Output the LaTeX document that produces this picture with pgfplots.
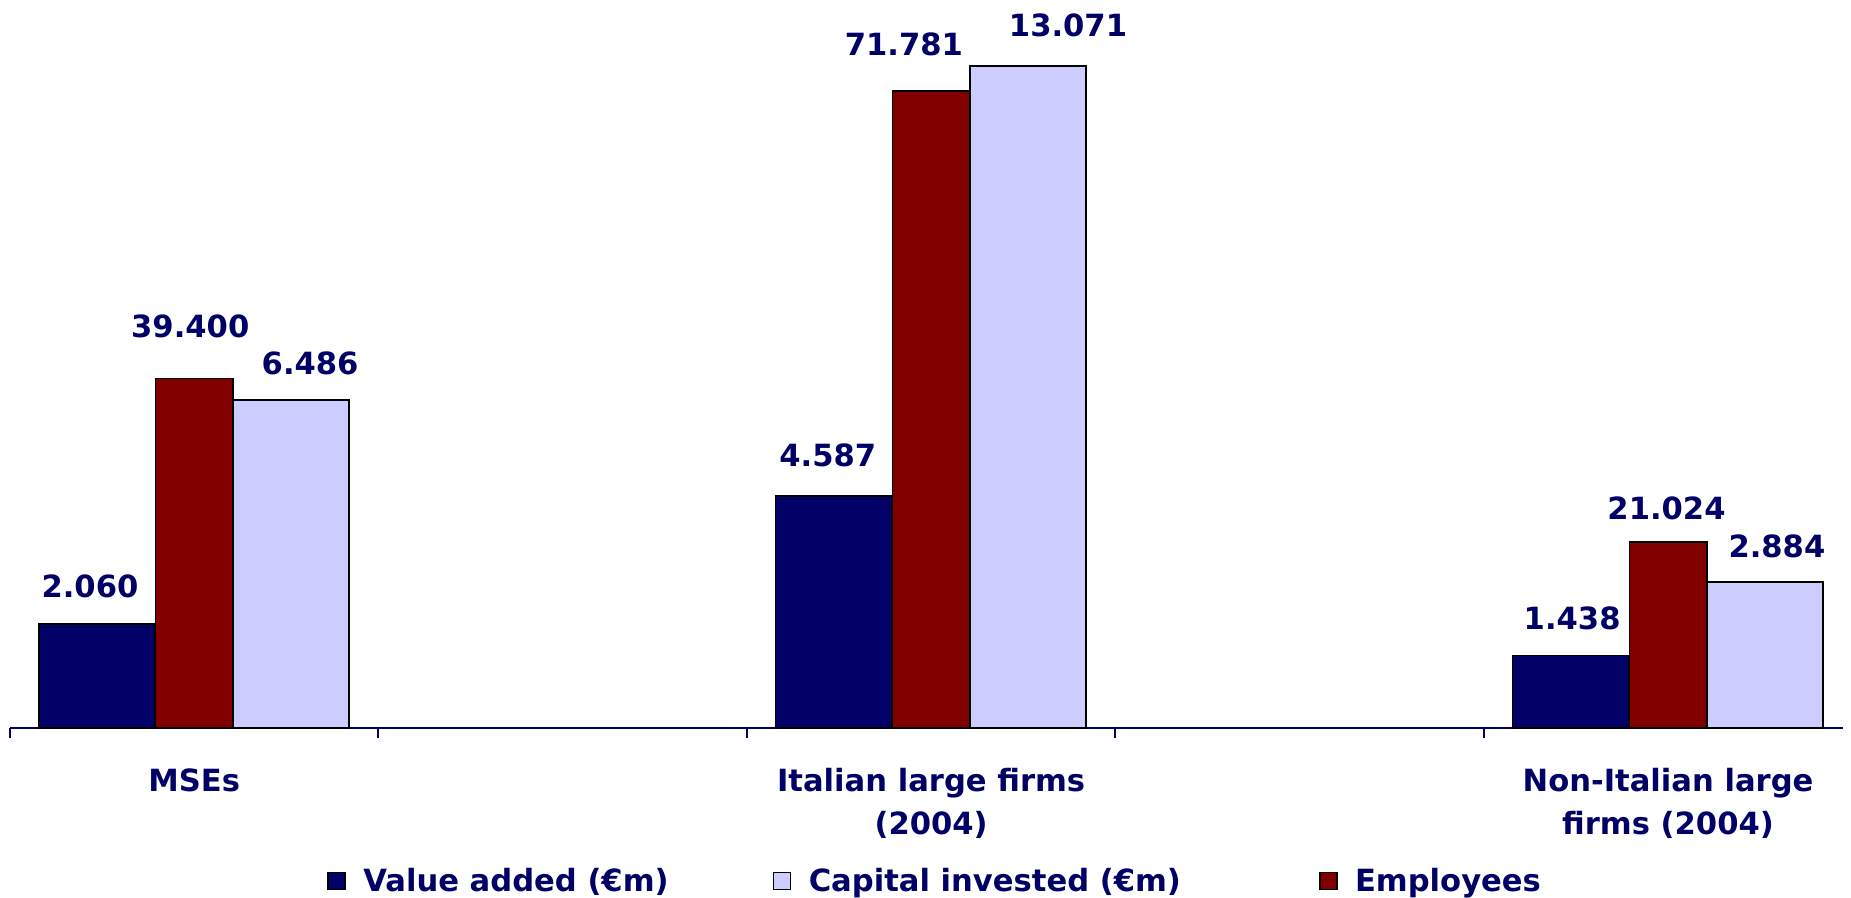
\documentclass[border=0pt]{standalone}
\usepackage{pgfplots}
\pgfplotsset{compat=1.18}
\usepackage{pgfplotstable}
\usepackage{fontspec}
\setmainfont{DejaVu Sans}
\definecolor{va}{HTML}{000066}
\definecolor{emp}{HTML}{800000}
\definecolor{capc}{HTML}{CCCCFF}
\definecolor{txt}{HTML}{000066}
\newcommand{\lf}{\fontsize{15.3}{21.5}\selectfont\bfseries}

\pgfplotstableread{
x y lab dx dy
0 2.060 2.060 -3.5 13.35
2 4.587 4.587 -3.0 14.5
4 1.438 1.438 0.7 13.2
}\tabVA
\pgfplotstableread{
x y lab dx dy
0 6.486 6.486 9.5 12.65
2 13.071 13.071 20.0 15.0
4 2.884 2.884 6.0 12.15
}\tabCap
\pgfplotstableread{
x y lab dx dy
0 39.400 39.400 -2.0 20.5
2 71.781 71.781 -13.6 17.85
4 21.024 21.024 -0.75 11.0
}\tabEmp

\begin{document}
\begin{tikzpicture}
\begin{axis}[name=ax, scale only axis, width=916.5pt, height=364.15pt,
 xmin=-0.5, xmax=4.475, ymin=0, ymax=14.376,
 axis x line*=bottom, axis y line=none,
 x axis line style={draw=txt, line width=1pt},
 xtick={0,2,4},
 xticklabels={MSEs,{Italian large firms\\(2004)},{Non-Italian large\\firms (2004)}},
 major tick length=0pt,
 xticklabel style={align=center, font=\lf, text=txt, anchor=north, inner sep=0pt, yshift=-19.9pt},
 extra x ticks={-0.5,0.5,1.5,2.5,3.5}, extra x tick labels={},
 extra x tick style={major tick length=5pt, tick align=outside, tick style={draw=txt, line width=1pt}},
 ybar, clip=false,
 nodes near coords, point meta=explicit symbolic,
 visualization depends on={\thisrow{dx}\as\dx},
 visualization depends on={\thisrow{dy}\as\dy},
 nodes near coords style={font=\lf, text=txt, anchor=base, inner sep=0pt, xshift=\dx pt, yshift=\dy pt},
]
\addplot[fill=va, draw=black, line width=0.8pt, bar width=0.316, bar shift=-0.264] table[x=x,y=y,meta=lab]{\tabVA};
\addplot[fill=capc, draw=black, line width=0.8pt, bar width=0.314, bar shift=0.263] table[x=x,y=y,meta=lab]{\tabCap};
\end{axis}
\begin{axis}[scale only axis, width=916.5pt, height=364.15pt,
 xmin=-0.5, xmax=4.475, ymin=0, ymax=82.07,
 hide axis, ybar, clip=false,
 nodes near coords, point meta=explicit symbolic,
 visualization depends on={\thisrow{dx}\as\dx},
 visualization depends on={\thisrow{dy}\as\dy},
 nodes near coords style={font=\lf, text=txt, anchor=base, inner sep=0pt, xshift=\dx pt, yshift=\dy pt},
 legend columns=3, legend cell align=left,
 legend image code/.code={\draw[#1, draw=black, line width=0.8pt] (0pt,-4.25pt) rectangle (8.5pt,4.25pt);},
 legend style={at={(0.5,0)}, anchor=center, yshift=-76.4pt, xshift=3.8pt, draw=none, fill=none,
   font=\lf, text=txt, nodes={inner sep=0pt},
   /tikz/every odd column/.append style={column sep=8.75pt},
   /tikz/every even column/.append style={column sep=52pt}},
]
\addplot[fill=emp, draw=black, line width=0.8pt, bar width=0.21, bar shift=0, forget plot] table[x=x,y=y,meta=lab]{\tabEmp};
\addlegendimage{fill=va}
\addlegendentry{Value added (€m)}
\addlegendimage{fill=capc}
\addlegendentry{Capital invested (€m)\hspace*{17pt}}
\addlegendimage{fill=emp}
\addlegendentry{Employees}
\end{axis}
\pgfresetboundingbox
\path[use as bounding box] ([xshift=-5pt,yshift=-84.85pt]ax.south west) rectangle ++(925.5pt,449pt);
\end{tikzpicture}
\end{document}
